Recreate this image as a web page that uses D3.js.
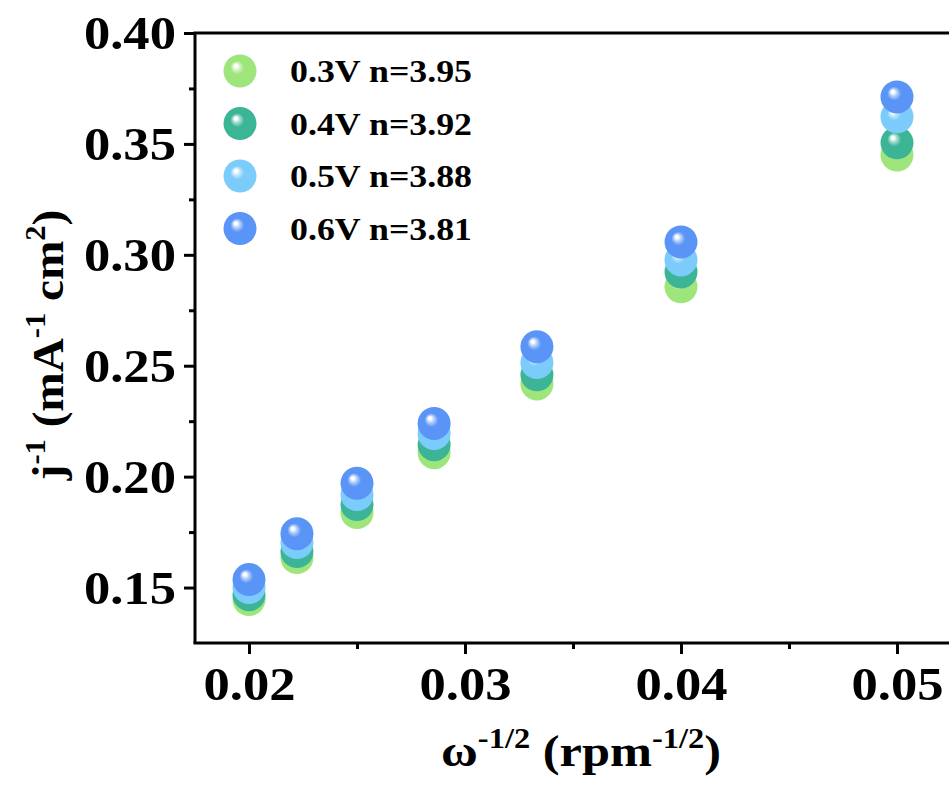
<!DOCTYPE html>
<html>
<head>
<meta charset="utf-8">
<script src="https://cdn.jsdelivr.net/npm/d3@7"></script>
<style>
  body { margin: 0; background: #fff; }
  svg { display: block; }
  text { font-family: "Liberation Serif", "Times New Roman", serif; font-weight: bold; fill: #000; }
</style>
</head>
<body>
<svg width="949" height="785"></svg>
<script>
// omega^-1/2 values (rpm^-1/2)
const xVals = [0.02, 0.02222, 0.025, 0.02857, 0.03333, 0.04, 0.05];
// j^-1 for each potential
const y03 = [0.1446, 0.1635, 0.1838, 0.2108, 0.2418, 0.2856, 0.3450];
const y04 = [0.1468, 0.1662, 0.1874, 0.2144, 0.2459, 0.2923, 0.3505];
const y05 = [0.1500, 0.1703, 0.1919, 0.2194, 0.2514, 0.2977, 0.3622];
const y06 = [0.1536, 0.1743, 0.1970, 0.2240, 0.2586, 0.3058, 0.3712];
const seriesNames = ['0.3V n=3.95', '0.4V n=3.92', '0.5V n=3.88', '0.6V n=3.81'];
const seriesColors = ['#9ee57b', '#3cb596', '#7bcbfb', '#5a94f6'];
const xTicks = [0.02, 0.03, 0.04, 0.05];
const yTicks = [0.15, 0.20, 0.25, 0.30, 0.35, 0.40];

const series = [y03, y04, y05, y06].map((ys, i) => ({
  name: seriesNames[i],
  color: seriesColors[i],
  points: ys.map((v, j) => ({x: xVals[j], y: v}))
}));

const svg = d3.select('svg');
const pL = 195, pT = 33, pB = 643, pR = 951;
const x = d3.scaleLinear().domain([0.0175, 0.0525]).range([pL, pR]);
const y = d3.scaleLinear().domain([0.125, 0.40]).range([pB, pT]);
const R = 16.5;
const stretch = 'scale(1.12,1)'; // the original text is a bit wide

// ball gradients
const defs = svg.append('defs');
series.forEach((s, i) => {
  const g = defs.append('radialGradient')
    .attr('id', 'ball' + i)
    .attr('cx', 0.5).attr('cy', 0.5).attr('r', 0.5)
    .attr('fx', 0.36).attr('fy', 0.33);
  g.append('stop').attr('offset', '0%').attr('stop-color', '#ffffff');
  g.append('stop').attr('offset', '9%').attr('stop-color', '#ffffff');
  g.append('stop').attr('offset', '22%').attr('stop-color', d3.interpolateRgb(s.color, '#ffffff')(0.55));
  g.append('stop').attr('offset', '42%').attr('stop-color', s.color);
  g.append('stop').attr('offset', '100%').attr('stop-color', s.color);
});

// frame
svg.append('path')
  .attr('d', `M${pL},${pB}V${pT}H${pR + 5}`)
  .attr('fill', 'none').attr('stroke', '#000').attr('stroke-width', 3);
svg.append('line')
  .attr('x1', pL - 1.5).attr('x2', pR + 5)
  .attr('y1', pB).attr('y2', pB)
  .attr('stroke', '#000').attr('stroke-width', 3);

// y axis
const yAxis = svg.append('g').attr('transform', `translate(${pL},0)`)
  .call(d3.axisLeft(y).tickValues(yTicks).tickSize(11).tickPadding(6).tickFormat(d3.format('.2f')));
yAxis.select('.domain').remove();
yAxis.selectAll('.tick line').attr('stroke-width', 3);
yAxis.selectAll('.tick text').attr('font-size', 47).attr('dy', '0.34em')
  .attr('transform', stretch)
  .style('font-family', '"Liberation Serif", serif').style('font-weight', 'bold');
const yMinor = svg.append('g').attr('transform', `translate(${pL},0)`)
  .call(d3.axisLeft(y).tickValues([0.175, 0.225, 0.275, 0.325, 0.375]).tickSize(6).tickFormat(''));
yMinor.select('.domain').remove();
yMinor.selectAll('.tick line').attr('stroke-width', 3);

// x axis
const xAxis = svg.append('g').attr('transform', `translate(0,${pB})`)
  .call(d3.axisBottom(x).tickValues(xTicks).tickSize(11).tickPadding(13).tickFormat(d3.format('.2f')));
xAxis.select('.domain').remove();
xAxis.selectAll('.tick line').attr('stroke-width', 3);
xAxis.selectAll('.tick text').attr('font-size', 47).attr('dy', '0.71em')
  .attr('transform', stretch)
  .style('font-family', '"Liberation Serif", serif').style('font-weight', 'bold');
const xMinor = svg.append('g').attr('transform', `translate(0,${pB})`)
  .call(d3.axisBottom(x).tickValues([0.025, 0.035, 0.045]).tickSize(6).tickFormat(''));
xMinor.select('.domain').remove();
xMinor.selectAll('.tick line').attr('stroke-width', 3);

// balls
series.forEach((s, i) => {
  svg.append('g').selectAll('circle')
    .data(s.points)
    .enter()
    .append('circle')
    .attr('cx', d => x(d.x))
    .attr('cy', d => y(d.y))
    .attr('r', R)
    .attr('fill', `url(#ball${i})`);
});

// legend
const legend = svg.append('g');
series.forEach((s, i) => {
  const ly = 71 + i * 52.5;
  legend.append('circle').attr('cx', 240).attr('cy', ly).attr('r', R).attr('fill', `url(#ball${i})`);
  legend.append('text')
    .attr('transform', `translate(290,${ly + 11}) ${stretch}`)
    .attr('font-size', 32).text(s.name);
});

// axis titles
const xt = svg.append('text')
  .attr('transform', `translate(581,766) ${stretch}`)
  .attr('text-anchor', 'middle').attr('font-size', 45);
xt.append('tspan').text('ω');
xt.append('tspan').attr('font-size', 29).attr('dy', -18).text('-1/2');
xt.append('tspan').attr('dy', 18).text(' (rpm');
xt.append('tspan').attr('font-size', 29).attr('dy', -18).text('-1/2');
xt.append('tspan').attr('dy', 18).text(')');

const yt = svg.append('text')
  .attr('transform', 'translate(63,345) rotate(-90) scale(1.05,1)')
  .attr('text-anchor', 'middle').attr('font-size', 45);
yt.append('tspan').text('j');
yt.append('tspan').attr('font-size', 29).attr('dy', -18).text('-1');
yt.append('tspan').attr('dy', 18).text(' (mA');
yt.append('tspan').attr('font-size', 29).attr('dy', -18).text('-1');
yt.append('tspan').attr('dy', 18).text(' cm');
yt.append('tspan').attr('font-size', 29).attr('dy', -18).text('2');
yt.append('tspan').attr('dy', 18).text(')');
</script>
</body>
</html>
